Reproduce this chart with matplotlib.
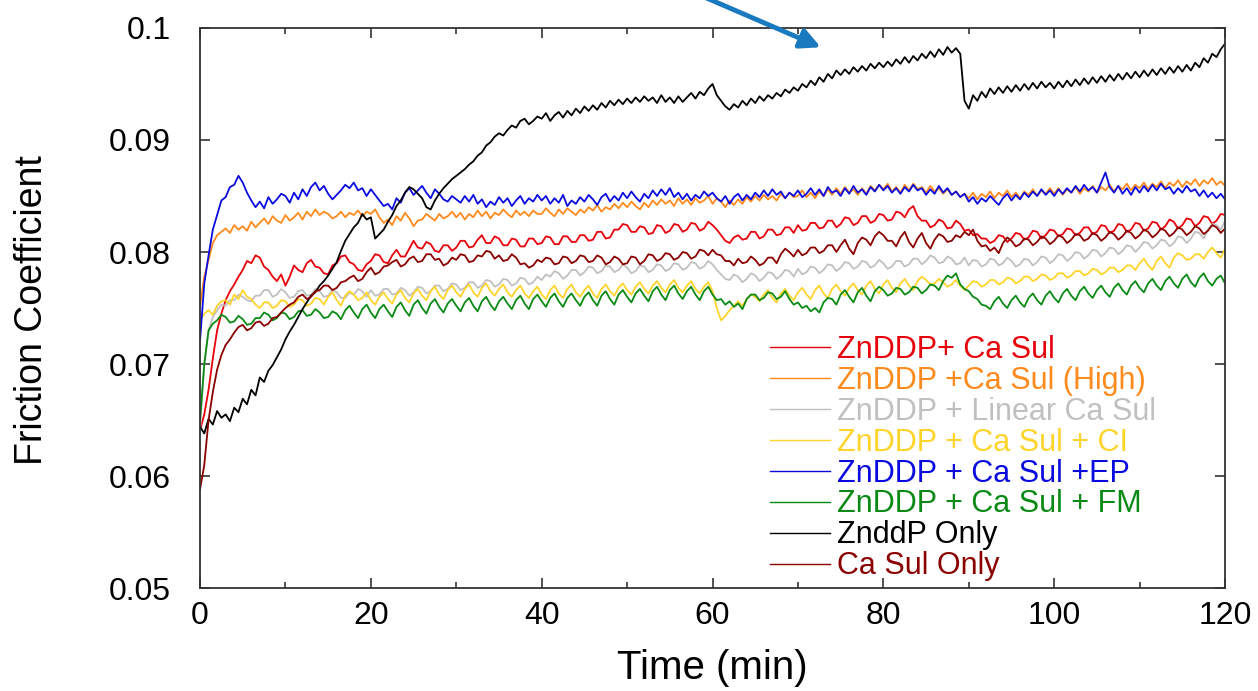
import numpy as np
import matplotlib
matplotlib.use("Agg")
import matplotlib.pyplot as plt
from matplotlib.ticker import MultipleLocator, FuncFormatter

plt.rcParams['font.family'] = ['Liberation Sans', 'DejaVu Sans']

# time in minutes, one reading every half minute
time_min = np.arange(0, 120.5, 0.5)

# friction coefficient readings, in units of 1e-4 (10 minutes per row)
zn_ca = [
    641, 655, 677, 705, 730, 745, 757, 765, 771, 778, 784, 792, 790, 797, 795, 787, 784, 778, 774, 780,
    770, 778, 788, 784, 782, 790, 793, 787, 786, 781, 780, 788, 790, 796, 797, 791, 789, 784, 783, 789,
    792, 798, 797, 791, 790, 797, 802, 796, 796, 803, 810, 804, 803, 809, 807, 801, 800, 806, 806, 801,
    804, 810, 810, 804, 805, 811, 815, 808, 808, 814, 812, 806, 806, 812, 811, 805, 805, 812, 812, 807,
    808, 814, 813, 807, 807, 814, 814, 809, 809, 815, 815, 810, 811, 818, 818, 812, 813, 820, 820, 825,
    824, 818, 818, 823, 822, 816, 817, 824, 823, 817, 819, 825, 824, 818, 820, 826, 825, 819, 821, 827,
    824, 820, 815, 810, 808, 813, 815, 811, 812, 818, 818, 812, 814, 820, 820, 815, 816, 822, 822, 817,
    824, 819, 820, 826, 826, 821, 822, 828, 828, 822, 825, 831, 830, 824, 826, 832, 832, 826, 828, 834,
    833, 828, 829, 836, 835, 831, 838, 841, 832, 828, 828, 822, 824, 829, 827, 821, 822, 828, 825, 819,
    820, 815, 816, 812, 812, 808, 810, 815, 814, 809, 812, 817, 816, 811, 813, 819, 818, 812, 815, 820,
    819, 814, 816, 821, 820, 815, 817, 822, 822, 816, 818, 824, 823, 817, 819, 825, 824, 818, 820, 826,
    825, 819, 821, 827, 826, 820, 823, 829, 827, 821, 824, 830, 829, 823, 826, 832, 831, 825, 828, 834,
    833]
zn_ca_high = [
    752, 778, 793, 808, 815, 818, 821, 817, 824, 820, 823, 819, 827, 822, 826, 830, 825, 832, 828, 826,
    833, 828, 831, 835, 829, 836, 832, 838, 833, 836, 834, 830, 832, 836, 831, 835, 833, 837, 832, 836,
    834, 838, 831, 826, 829, 824, 832, 828, 835, 830, 823, 828, 829, 834, 831, 828, 834, 830, 832, 836,
    831, 835, 829, 834, 831, 837, 832, 836, 830, 835, 833, 838, 834, 831, 837, 833, 836, 832, 837, 834,
    834, 839, 835, 832, 838, 834, 839, 836, 833, 838, 835, 840, 837, 842, 836, 840, 838, 843, 839, 844,
    840, 845, 841, 838, 844, 840, 846, 842, 847, 843, 846, 841, 848, 843, 847, 842, 848, 844, 846, 850,
    843, 848, 845, 840, 846, 842, 847, 843, 849, 845, 850, 846, 851, 847, 850, 846, 852, 848, 853, 849,
    850, 855, 849, 853, 848, 854, 850, 856, 851, 857, 852, 858, 853, 856, 851, 857, 852, 859, 855, 860,
    856, 861, 854, 858, 853, 860, 855, 861, 856, 858, 853, 859, 854, 857, 852, 856, 851, 854, 849, 852,
    848, 853, 847, 852, 849, 854, 848, 853, 850, 855, 849, 853, 848, 854, 851, 856, 850, 855, 852, 857,
    852, 857, 851, 856, 853, 858, 852, 857, 854, 859, 853, 858, 855, 860, 854, 859, 856, 861, 855, 860,
    857, 862, 856, 861, 858, 863, 857, 862, 859, 864, 858, 863, 860, 865, 859, 864, 861, 866, 860, 863,
    859]
zn_linear_ca = [
    641, 700, 730, 742, 748, 753, 752, 757, 757, 762, 760, 757, 756, 761, 761, 766, 766, 760, 762, 767,
    764, 759, 760, 765, 766, 761, 762, 767, 765, 760, 761, 766, 764, 759, 759, 764, 762, 767, 765, 760,
    766, 761, 762, 767, 767, 762, 763, 768, 766, 761, 764, 769, 768, 763, 765, 770, 770, 765, 767, 772,
    771, 766, 768, 773, 773, 768, 770, 775, 774, 769, 771, 776, 775, 770, 772, 777, 776, 771, 773, 778,
    775, 780, 778, 783, 781, 776, 779, 784, 784, 779, 782, 787, 786, 781, 783, 788, 787, 782, 784, 789,
    786, 781, 783, 788, 787, 782, 784, 789, 788, 783, 785, 790, 789, 784, 786, 791, 790, 785, 787, 792,
    789, 784, 780, 776, 775, 780, 778, 773, 776, 781, 779, 774, 777, 782, 781, 776, 779, 784, 783, 778,
    785, 780, 782, 787, 786, 781, 784, 789, 788, 783, 786, 791, 790, 785, 787, 792, 791, 786, 788, 793,
    790, 785, 787, 792, 792, 787, 789, 794, 794, 789, 792, 797, 795, 790, 791, 796, 794, 789, 790, 795,
    788, 793, 792, 787, 789, 794, 793, 788, 790, 795, 792, 787, 789, 794, 793, 788, 791, 796, 795, 790,
    793, 798, 797, 792, 795, 800, 799, 794, 797, 802, 801, 796, 799, 804, 803, 798, 801, 806, 805, 800,
    804, 809, 808, 803, 806, 811, 810, 805, 808, 814, 813, 808, 812, 818, 817, 812, 820, 825, 824, 820,
    828]
zn_ca_ci = [
    739, 745, 748, 744, 752, 756, 757, 753, 762, 758, 766, 760, 758, 753, 750, 755, 755, 750, 752, 757,
    756, 751, 753, 758, 757, 752, 754, 759, 758, 753, 760, 764, 757, 752, 761, 765, 762, 757, 759, 764,
    757, 753, 760, 764, 758, 754, 762, 766, 759, 755, 763, 767, 761, 757, 765, 769, 762, 758, 766, 770,
    764, 760, 767, 771, 764, 760, 768, 772, 765, 761, 767, 771, 764, 760, 766, 770, 763, 759, 765, 769,
    762, 758, 766, 770, 763, 759, 767, 771, 764, 760, 766, 770, 763, 759, 767, 771, 765, 761, 768, 772,
    766, 762, 769, 773, 767, 763, 770, 774, 768, 764, 771, 775, 768, 764, 770, 774, 767, 763, 769, 773,
    765, 750, 739, 743, 748, 752, 756, 752, 758, 762, 760, 756, 762, 766, 759, 755, 763, 767, 761, 757,
    764, 768, 762, 758, 766, 770, 763, 759, 767, 771, 765, 761, 768, 772, 766, 762, 770, 774, 767, 763,
    771, 775, 768, 764, 772, 776, 770, 766, 774, 778, 775, 771, 772, 776, 773, 769, 771, 775, 770, 766,
    770, 774, 773, 769, 771, 775, 775, 771, 773, 777, 776, 772, 774, 778, 778, 774, 776, 780, 779, 775,
    777, 781, 781, 777, 779, 783, 783, 779, 781, 785, 784, 780, 782, 786, 786, 782, 784, 788, 788, 784,
    790, 794, 788, 784, 792, 796, 790, 786, 795, 799, 797, 793, 794, 798, 798, 794, 800, 804, 799, 795,
    803]
zn_ca_ep = [
    721, 772, 797, 820, 833, 846, 849, 858, 860, 868, 862, 853, 846, 840, 845, 839, 849, 843, 847, 852,
    850, 844, 853, 847, 856, 850, 858, 862, 855, 859, 852, 847, 851, 855, 860, 857, 862, 855, 857, 850,
    856, 851, 846, 841, 843, 838, 848, 844, 853, 857, 851, 855, 859, 853, 848, 856, 852, 847, 845, 850,
    847, 844, 850, 845, 851, 843, 847, 840, 845, 842, 849, 844, 848, 841, 846, 850, 843, 848, 845, 851,
    846, 850, 843, 848, 844, 851, 841, 846, 843, 849, 845, 851, 847, 842, 849, 852, 845, 850, 846, 853,
    848, 854, 849, 845, 852, 848, 855, 850, 856, 851, 857, 849, 853, 847, 852, 846, 851, 848, 854, 850,
    853, 848, 845, 850, 843, 849, 852, 846, 851, 847, 853, 849, 855, 850, 856, 851, 854, 848, 853, 850,
    855, 849, 852, 857, 851, 856, 850, 858, 853, 855, 850, 857, 852, 859, 853, 856, 851, 858, 854, 860,
    855, 859, 853, 857, 852, 858, 854, 860, 855, 857, 851, 856, 852, 859, 853, 857, 851, 854, 849, 852,
    845, 849, 843, 848, 845, 850, 846, 842, 848, 852, 846, 851, 847, 853, 849, 854, 850, 856, 851, 855,
    850, 856, 852, 857, 853, 859, 854, 860, 855, 858, 853, 862, 871, 858, 853, 859, 852, 857, 851, 858,
    853, 859, 854, 860, 855, 861, 856, 858, 852, 857, 853, 859, 854, 856, 850, 855, 849, 853, 848, 852,
    847]
zn_ca_fm = [
    650, 700, 730, 736, 739, 744, 742, 737, 738, 743, 740, 735, 736, 741, 741, 746, 744, 739, 741, 746,
    745, 740, 742, 747, 748, 743, 744, 749, 746, 741, 742, 747, 745, 740, 748, 752, 746, 741, 749, 753,
    746, 741, 749, 753, 747, 742, 751, 755, 748, 743, 753, 757, 750, 745, 754, 758, 751, 746, 754, 758,
    752, 747, 755, 759, 752, 747, 756, 760, 753, 748, 756, 760, 754, 749, 757, 761, 754, 749, 758, 762,
    756, 751, 759, 763, 756, 751, 759, 763, 757, 752, 760, 764, 757, 752, 761, 765, 758, 753, 762, 766,
    760, 755, 763, 767, 761, 756, 765, 769, 762, 757, 766, 770, 763, 758, 765, 769, 762, 757, 765, 769,
    762, 757, 758, 753, 756, 751, 754, 749, 758, 762, 762, 757, 759, 764, 763, 758, 760, 765, 758, 753,
    755, 750, 752, 747, 750, 746, 755, 759, 758, 753, 762, 766, 760, 755, 764, 768, 761, 756, 765, 769,
    766, 761, 763, 768, 767, 762, 764, 769, 768, 763, 766, 771, 770, 766, 774, 779, 777, 781, 771, 767,
    765, 760, 758, 753, 752, 749, 756, 760, 754, 750, 757, 761, 755, 751, 759, 763, 757, 753, 761, 765,
    759, 755, 763, 767, 761, 757, 765, 769, 763, 759, 766, 770, 764, 760, 768, 772, 766, 762, 770, 774,
    768, 764, 772, 776, 770, 766, 774, 778, 772, 768, 776, 780, 773, 769, 777, 781, 774, 770, 776, 779,
    772]
zn_only = [
    644, 638, 651, 646, 658, 652, 655, 649, 661, 657, 669, 664, 677, 672, 688, 684, 694, 699, 706, 713,
    722, 729, 735, 742, 749, 755, 761, 764, 770, 774, 779, 785, 791, 801, 810, 816, 822, 826, 834, 829,
    831, 812, 816, 820, 827, 833, 841, 846, 853, 858, 856, 852, 848, 840, 838, 846, 852, 857, 861, 865,
    868, 871, 874, 878, 881, 886, 889, 895, 898, 903, 906, 904, 909, 913, 911, 917, 919, 914, 917, 921,
    919, 924, 917, 922, 925, 920, 926, 922, 928, 924, 930, 926, 931, 927, 933, 929, 935, 931, 936, 932,
    937, 933, 938, 934, 939, 935, 938, 933, 940, 934, 938, 933, 939, 934, 938, 942, 937, 943, 940, 946,
    950, 940, 935, 930, 927, 932, 929, 935, 931, 937, 933, 939, 935, 940, 937, 942, 939, 945, 942, 947,
    944, 950, 947, 953, 949, 956, 952, 959, 955, 962, 958, 963, 959, 965, 961, 966, 962, 968, 964, 969,
    965, 970, 966, 972, 968, 974, 969, 975, 971, 977, 973, 979, 974, 981, 976, 983, 978, 982, 977, 935,
    928, 940, 935, 943, 938, 946, 941, 947, 942, 948, 943, 949, 944, 950, 945, 951, 946, 952, 947, 951,
    946, 952, 947, 953, 948, 954, 949, 955, 950, 956, 951, 957, 952, 958, 953, 959, 954, 960, 955, 961,
    956, 962, 957, 963, 958, 964, 959, 965, 960, 966, 961, 967, 962, 969, 965, 973, 969, 977, 974, 981,
    986]
ca_only = [
    588, 610, 650, 675, 695, 708, 717, 722, 728, 733, 735, 730, 732, 737, 738, 734, 736, 741, 742, 746,
    750, 753, 755, 760, 762, 758, 760, 765, 766, 770, 770, 766, 768, 773, 774, 777, 779, 774, 776, 782,
    786, 780, 782, 787, 788, 791, 793, 787, 789, 794, 796, 791, 792, 798, 798, 793, 794, 788, 790, 795,
    793, 798, 797, 791, 792, 797, 796, 801, 800, 794, 797, 792, 793, 798, 795, 789, 790, 786, 788, 793,
    791, 795, 794, 789, 790, 796, 795, 790, 792, 797, 796, 791, 792, 797, 795, 789, 791, 796, 794, 789,
    790, 796, 795, 789, 792, 798, 797, 792, 794, 799, 798, 793, 795, 800, 799, 794, 796, 802, 801, 797,
    802, 798, 797, 792, 792, 788, 794, 790, 791, 796, 793, 788, 790, 795, 795, 790, 798, 803, 800, 796,
    802, 797, 799, 804, 804, 799, 801, 806, 806, 800, 806, 811, 803, 798, 808, 813, 811, 806, 814, 818,
    815, 810, 810, 805, 813, 818, 809, 804, 812, 817, 808, 803, 811, 816, 814, 809, 810, 815, 813, 818,
    815, 820, 810, 805, 806, 801, 804, 799, 808, 813, 810, 805, 807, 812, 811, 806, 809, 814, 812, 807,
    810, 815, 813, 808, 811, 816, 815, 810, 812, 817, 815, 810, 813, 818, 816, 811, 814, 819, 817, 812,
    815, 820, 818, 813, 816, 821, 819, 814, 817, 822, 820, 815, 818, 823, 821, 816, 819, 824, 822, 817,
    821]

series = [
    ("ZnDDP+ Ca Sul", zn_ca, "#e8000b"),
    ("ZnDDP +Ca Sul (High)", zn_ca_high, "#ff8a1c"),
    ("ZnDDP + Linear Ca Sul", zn_linear_ca, "#c0c0c0"),
    ("ZnDDP + Ca Sul + CI", zn_ca_ci, "#ffd42a"),
    ("ZnDDP + Ca Sul +EP", zn_ca_ep, "#0a0ae0"),
    ("ZnDDP + Ca Sul + FM", zn_ca_fm, "#0a8a14"),
    ("ZnddP Only", zn_only, "#000000"),
    ("Ca Sul Only", ca_only, "#8b0000"),
]

fig = plt.figure(figsize=(12.58, 6.91), dpi=100)
ax = fig.add_axes([0.159, 0.149, 0.8148, 0.8105])

for name, vals, col in series:
    ax.plot(time_min, np.array(vals) / 1e4, color=col, lw=1.3, label=name)

ax.set_xlim(0, 120)
ax.set_ylim(0.05, 0.1)
ax.xaxis.set_major_locator(MultipleLocator(20))
ax.xaxis.set_minor_locator(MultipleLocator(10))
ax.yaxis.set_major_locator(MultipleLocator(0.01))
ax.yaxis.set_major_formatter(FuncFormatter(lambda v, p: "%g" % round(v, 3)))

ax.tick_params(which='both', direction='in', top=True, right=True, color='#333333', width=1.2)
ax.tick_params(which='major', length=7)
ax.tick_params(which='minor', length=4)
ax.tick_params(axis='x', labelsize=23, pad=9)
ax.tick_params(axis='y', labelsize=23, pad=21)
for s in ax.spines.values():
    s.set_color('#333333')
    s.set_linewidth(1.3)

ax.set_xlabel("Time (min)", fontsize=29)
ax.set_ylabel("Friction Coefficient", fontsize=27)
ax.xaxis.set_label_coords(0.4995, -0.143)
ax.yaxis.set_label_coords(-0.164, 0.496)
ax.xaxis.label.set_va('center')
ax.yaxis.label.set_va('center')

leg = ax.legend(loc='lower left', bbox_to_anchor=(0.556, 0.012), frameon=False, fontsize=22,
                handlelength=1.96, handletextpad=0.23, labelspacing=0.03, borderpad=0.0,
                borderaxespad=0.0, labelcolor='linecolor')
for h in leg.get_lines():
    h.set_linewidth(1.0)

# arrow pointing at the ZnddP Only curve
fig.patches.append(matplotlib.patches.FancyArrowPatch(
    (0.5525, 1.01), (0.6545, 0.93), transform=fig.transFigure,
    arrowstyle='-|>', mutation_scale=30, lw=3.5, color='#1a7ac0'))

fig.savefig("out.png", dpi=100)
